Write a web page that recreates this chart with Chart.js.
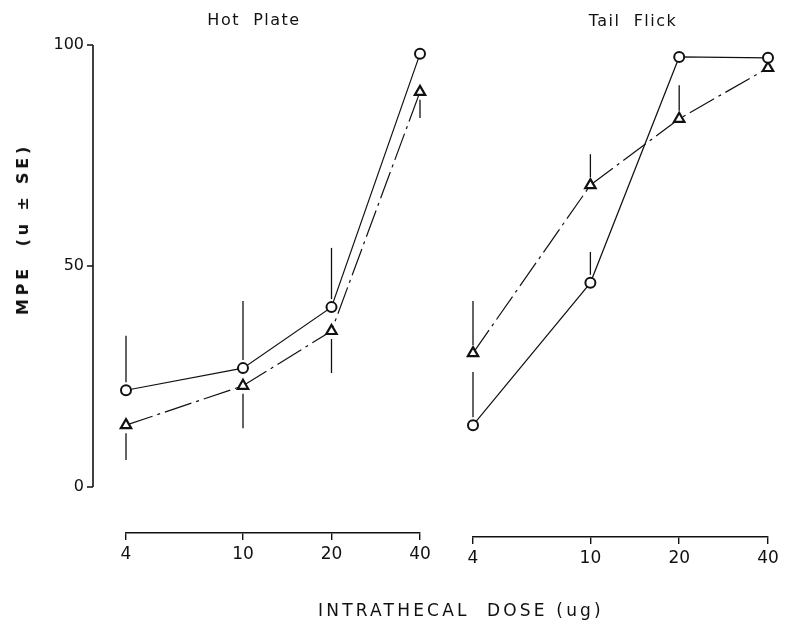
<!DOCTYPE html>
<html>
<head>
<meta charset="utf-8">
<script src="https://cdn.jsdelivr.net/npm/chart.js@4.4.1/dist/chart.umd.min.js"></script>
<style>
  body { margin: 0; background: #fff; }
  #page { position: relative; width: 792px; height: 624px; overflow: hidden; font-family: "DejaVu Sans", sans-serif; color: #111; }
  .box { position: absolute; top: 0; height: 624px; }
  .lbl { position: absolute; white-space: pre; line-height: 1; }
</style>
</head>
<body>
<div id="page">
  <div class="box" style="left:0;width:450px"><canvas id="hotPlate"></canvas></div>
  <div class="box" style="left:450px;width:342px"><canvas id="tailFlick"></canvas></div>
  <div class="lbl" style="left:254px;top:20px;font-size:16px;letter-spacing:1.5px;transform:translate(-50%,-50%)">Hot  Plate</div>
  <div class="lbl" style="left:633px;top:21px;font-size:16px;letter-spacing:1.5px;transform:translate(-50%,-50%)">Tail  Flick</div>
  <div class="lbl" style="left:461px;top:610px;font-size:17px;letter-spacing:3.2px;transform:translate(-50%,-50%)">INTRATHECAL  DOSE (ug)</div>
  <div class="lbl" style="left:23px;top:229px;font-size:16px;font-weight:bold;letter-spacing:3.8px;transform:translate(-50%,-50%) rotate(-90deg)">MPE  (u ± SE)</div>
</div>
<script>
// doses (ug) on the log x axis
const doses = [4, 10, 20, 40];
const xTicks = [4, 10, 20, 40];
const yTicks = [0, 50, 100];

// Hot Plate
const hpCircle = [21.9, 26.9, 40.7, 98.0];
const hpCircleSE = [12.3, 15.2, 13.4, 0];
const hpTriangle = [14.0, 22.9, 35.3, 89.4];
const hpTriangleSE = [7.9, 9.6, 9.5, 5.9];

// Tail Flick
const tfCircle = [14.0, 46.2, 97.3, 97.1];
const tfCircleSE = [12.0, 7.0, 0, 0];
const tfTriangle = [30.3, 68.3, 83.3, 94.8];
const tfTriangleSE = [11.8, 7.0, 7.6, 0];

const INK = '#111';

// one-sided SE bars, starting a little away from the marker
const errorBars = {
  id: 'errorBars',
  afterDatasetsDraw(chart) {
    const ctx = chart.ctx, x = chart.scales.x, y = chart.scales.y;
    ctx.save();
    ctx.strokeStyle = INK;
    ctx.lineWidth = 1.3;
    chart.data.datasets.forEach(ds => {
      ds.se.forEach((se, i) => {
        if (!se) return;
        const v = ds.values[i];
        const px = x.getPixelForValue(doses[i]);
        const py = y.getPixelForValue(v);
        const end = y.getPixelForValue(v + ds.dir * se);
        ctx.beginPath();
        ctx.moveTo(px, py - ds.dir * 8);
        ctx.lineTo(px, end);
        ctx.stroke();
      });
    });
    ctx.restore();
  }
};

// y axis line from 0 to 100 only, set off to the left of the panel
const yAxisLine = {
  id: 'yAxisLine',
  afterDraw(chart) {
    const ctx = chart.ctx, y = chart.scales.y;
    const ax = chart.chartArea.left - 33;
    ctx.save();
    ctx.strokeStyle = INK;
    ctx.lineWidth = 1.6;
    ctx.beginPath();
    ctx.moveTo(ax, y.getPixelForValue(0));
    ctx.lineTo(ax, y.getPixelForValue(100));
    yTicks.forEach(v => {
      const py = y.getPixelForValue(v);
      ctx.moveTo(ax, py);
      ctx.lineTo(ax - 6, py);
    });
    ctx.stroke();
    ctx.restore();
  }
};

function makeSets(circle, circleSE, tri, triSE, triDir) {
  return [
    {
      label: 'circle',
      values: circle,
      se: circleSE,
      dir: 1,
      borderColor: INK,
      borderWidth: 1.2,
      pointStyle: 'circle',
      pointRadius: 5,
      pointBorderWidth: 2,
      pointBackgroundColor: '#fff',
      pointBorderColor: INK,
      tension: 0,
      clip: false
    },
    {
      label: 'triangle',
      values: tri,
      se: triSE,
      dir: triDir,
      borderColor: INK,
      borderWidth: 1.2,
      borderDash: [28, 5, 3, 5],
      pointStyle: 'triangle',
      pointRadius: 6,
      pointBorderWidth: 2.2,
      pointBackgroundColor: '#fff',
      pointBorderColor: INK,
      tension: 0,
      clip: false
    }
  ];
}

function makeChart(id, sets, yMin, xHeight, pad, showY) {
  return new Chart(document.getElementById(id), {
    type: 'line',
    data: {
      labels: doses,
      datasets: sets.map(s => ({ ...s, data: s.values.map((v, i) => ({ x: doses[i], y: v })) }))
    },
    options: {
      responsive: true,
      maintainAspectRatio: false,
      animation: false,
      layout: { padding: pad },
      plugins: { legend: { display: false }, tooltip: { enabled: false }, title: { display: false } },
      scales: {
        x: {
          type: 'logarithmic',
          min: 4,
          max: 40,
          afterBuildTicks: s => { s.ticks = xTicks.map(v => ({ value: v })); },
          afterFit: s => { s.height = xHeight; },
          border: { display: true, color: INK, width: 1.6 },
          grid: { display: true, drawOnChartArea: false, drawTicks: true, tickLength: 7, color: INK, lineWidth: 1.4 },
          ticks: { color: INK, font: { family: 'DejaVu Sans', size: 17 }, padding: 4, maxRotation: 0, autoSkip: false, callback: v => String(v) }
        },
        y: {
          display: showY,
          min: yMin,
          max: 100,
          afterBuildTicks: s => { s.ticks = yTicks.map(v => ({ value: v })); },
          afterFit: s => { s.width = showY ? 126 : 0; },
          border: { display: false },
          // hidden grid; the tick length only pushes the labels out to the axis line
          grid: { display: false, drawTicks: true, tickLength: 38 },
          ticks: { color: INK, font: { family: 'DejaVu Sans', size: 16 }, padding: 4 }
        }
      }
    },
    plugins: showY ? [errorBars, yAxisLine] : [errorBars]
  });
}

makeChart('hotPlate', makeSets(hpCircle, hpCircleSE, hpTriangle, hpTriangleSE, -1),
  -10.4, 91, { left: 0, right: 30, top: 45, bottom: 0 }, true);
makeChart('tailFlick', makeSets(tfCircle, tfCircleSE, tfTriangle, tfTriangleSE, 1),
  -11.3, 87, { left: 23, right: 24, top: 45, bottom: 0 }, false);
</script>
</body>
</html>
